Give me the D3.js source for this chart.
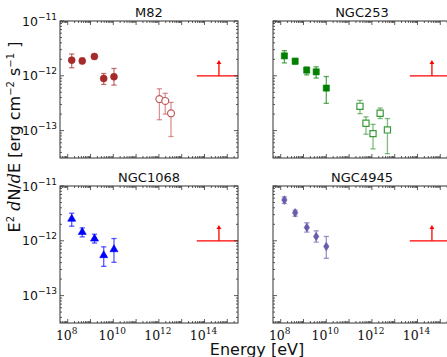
<!DOCTYPE html>
<html><head><meta charset="utf-8">
<script src="https://cdn.jsdelivr.net/npm/d3@7"></script>
<style>body{margin:0;background:#fff}svg{display:block}</style>
</head><body>
<svg id="c" width="447" height="357"></svg>
<script>
// ---- data ----
const panelNames = ["M82", "NGC253", "NGC1068", "NGC4945"];
const xTickLabels = ["8", "10", "12", "14"];
const yTickLabels = ["−11", "−12", "−13"];

const m82E  = [1.5e8, 4.35e8, 1.48e9, 3.8e9, 1.07e10];
const m82F  = [1.93e-12, 1.87e-12, 2.25e-12, 8.9e-13, 9.6e-13];
const m82Lo = [1.4e-12, 1.67e-12, 2.04e-12, 6.95e-13, 6.76e-13];
const m82Hi = [2.5e-12, 2.1e-12, 2.44e-12, 1.1e-12, 1.36e-12];
const m82vE  = [1.05e12, 1.9e12, 3.4e12];
const m82vF  = [3.77e-13, 3.47e-13, 2.07e-13];
const m82vLo = [1.58e-13, 2.0e-13, 7.8e-14];
const m82vHi = [5.8e-13, 4.8e-13, 3.27e-13];

const n253E  = [1.45e8, 4.3e8, 1.38e9, 3.6e9, 1.0e10];
const n253F  = [2.31e-12, 1.85e-12, 1.27e-12, 1.18e-12, 5.97e-13];
const n253Lo = [1.72e-12, 1.63e-12, 1.04e-12, 9.1e-13, 3.14e-13];
const n253Hi = [2.88e-12, 2.07e-12, 1.44e-12, 1.46e-12, 9.7e-13];
const n253hE  = [3.0e11, 5.5e11, 1.12e12, 2.3e12, 4.8e12];
const n253hF  = [2.77e-13, 1.36e-13, 8.8e-14, 2.07e-13, 1.03e-13];
const n253hLo = [2.04e-13, 8.6e-14, 4.64e-14, 1.66e-13, 3.8e-14];
const n253hHi = [3.56e-13, 1.78e-13, 1.3e-13, 2.58e-13, 1.66e-13];

const n1068E  = [1.5e8, 4.35e8, 1.5e9, 3.8e9, 1.07e10];
const n1068F  = [2.51e-12, 1.44e-12, 1.09e-12, 5.43e-13, 6.97e-13];
const n1068Lo = [1.85e-12, 1.18e-12, 9.1e-13, 3.42e-13, 4.05e-13];
const n1068Hi = [3.19e-12, 1.72e-12, 1.32e-12, 7.76e-13, 1.1e-12];

const n4945E  = [1.45e8, 4.3e8, 1.4e9, 3.6e9, 1.0e10];
const n4945F  = [5.56e-12, 3.24e-12, 1.75e-12, 1.2e-12, 7.88e-13];
const n4945Lo = [4.79e-12, 2.81e-12, 1.44e-12, 9.46e-13, 4.79e-13];
const n4945Hi = [6.3e-12, 3.61e-12, 2.13e-12, 1.52e-12, 1.2e-12];

const limitE = [4.6e13, 1e16];
const limitF = 1e-12;
const arrowE = 4.3e14;
const arrowTipF = 1.95e-12;

// ---- layout ----
const svg = d3.select("#c");
const W = 178, H = 137;
const panels = [
  {name: panelNames[0], x: 60, y: 21, ylab: true, xlab: false,
   sets: [
     {E: m82E, F: m82F, lo: m82Lo, hi: m82Hi, sym: "circle", color: "#a52a2a", open: false},
     {E: m82vE, F: m82vF, lo: m82vLo, hi: m82vHi, sym: "circle", color: "#c45a5a", open: true}]},
  {name: panelNames[1], x: 273, y: 21, ylab: false, xlab: false,
   sets: [
     {E: n253E, F: n253F, lo: n253Lo, hi: n253Hi, sym: "square", color: "#008000", open: false},
     {E: n253hE, F: n253hF, lo: n253hLo, hi: n253hHi, sym: "square", color: "#3a9a3a", open: true}]},
  {name: panelNames[2], x: 60, y: 186, ylab: true, xlab: true,
   sets: [
     {E: n1068E, F: n1068F, lo: n1068Lo, hi: n1068Hi, sym: "triangle", color: "#0000ff", open: false}]},
  {name: panelNames[3], x: 273, y: 186, ylab: false, xlab: true,
   sets: [
     {E: n4945E, F: n4945F, lo: n4945Lo, hi: n4945Hi, sym: "diamond", color: "#6a5aaa", open: false}]}
];

const x = d3.scaleLog().domain([Math.pow(10, 7.662), Math.pow(10, 15.47)]).range([0, W]);
const y = d3.scaleLog().domain([Math.pow(10, -13.5), 1e-11]).range([H, 0]);

const thinDiamond = {
  draw(ctx, size) { const w = 2.7, h = 4.3; ctx.moveTo(0, -h); ctx.lineTo(w, 0); ctx.lineTo(0, h); ctx.lineTo(-w, 0); ctx.closePath(); }
};
function symPath(s) {
  if (s === "circle") return d3.symbol(d3.symbolCircle, 38)();
  if (s === "square") return d3.symbol(d3.symbolSquare, 38)();
  if (s === "triangle") return d3.symbol(d3.symbolTriangle, 28)();
  return d3.symbol(thinDiamond, 1)();
}

panels.forEach((p, i) => {
  const g = svg.append("g").attr("transform", `translate(${p.x},${p.y})`);
  const cid = "clip" + i;
  g.append("clipPath").attr("id", cid).append("rect").attr("width", W).attr("height", H);
  const inner = g.append("g").attr("clip-path", `url(#${cid})`);

  // ticks (inside, all four sides)
  const tg = g.append("g").attr("stroke", "#333").attr("stroke-width", 0.8);
  for (let d = 7; d <= 15; d++) {
    for (let k = 1; k <= 9; k++) {
      const v = k * Math.pow(10, d);
      const px = x(v);
      if (px < 0.5 || px > W - 0.5) continue;
      const L = k === 1 ? 4 : 2;
      tg.append("line").attr("x1", px).attr("x2", px).attr("y1", H).attr("y2", H - L);
      tg.append("line").attr("x1", px).attr("x2", px).attr("y1", 0).attr("y2", L);
    }
  }
  for (let d = -14; d <= -11; d++) {
    for (let k = 1; k <= 9; k++) {
      const v = k * Math.pow(10, d);
      const py = y(v);
      if (py < -0.1 || py > H - 0.5) continue;
      const L = k === 1 ? 4 : 2;
      tg.append("line").attr("y1", py).attr("y2", py).attr("x1", 0).attr("x2", L);
      tg.append("line").attr("y1", py).attr("y2", py).attr("x1", W).attr("x2", W - L);
    }
  }

  // limit line + arrow
  inner.append("line").attr("x1", x(limitE[0])).attr("x2", x(limitE[1]))
    .attr("y1", y(limitF)).attr("y2", y(limitF)).attr("stroke", "#ff0000").attr("stroke-width", 1.3);
  const ax = x(arrowE), at = y(arrowTipF);
  inner.append("line").attr("x1", ax).attr("x2", ax).attr("y1", y(limitF)).attr("y2", at + 3)
    .attr("stroke", "#ff0000").attr("stroke-width", 1.3);
  inner.append("path").attr("d", `M${ax},${at} L${ax + 2.4},${at + 4.2} L${ax - 2.4},${at + 4.2} Z`).attr("fill", "#ff0000");

  // data
  p.sets.forEach(s => {
    const pts = s.E.map((e, j) => ({e, f: s.F[j], lo: s.lo[j], hi: s.hi[j]}));
    const eg = inner.append("g").attr("stroke", s.color).attr("stroke-opacity", 0.65).attr("stroke-width", 1.3);
    pts.forEach(d => {
      const px = x(d.e);
      eg.append("line").attr("x1", px).attr("x2", px).attr("y1", y(d.lo)).attr("y2", y(d.hi));
      eg.append("line").attr("x1", px - 2.6).attr("x2", px + 2.6).attr("y1", y(d.lo)).attr("y2", y(d.lo));
      eg.append("line").attr("x1", px - 2.6).attr("x2", px + 2.6).attr("y1", y(d.hi)).attr("y2", y(d.hi));
    });
    inner.append("g").selectAll("path").data(pts).join("path")
      .attr("d", symPath(s.sym))
      .attr("transform", d => `translate(${x(d.e)},${y(d.f)})`)
      .attr("fill", s.open ? "#fff" : s.color)
      .attr("stroke", s.color)
      .attr("stroke-width", s.open ? 1.2 : 0.6);
  });

  // frame
  g.append("rect").attr("width", W).attr("height", H).attr("fill", "none").attr("stroke", "#333").attr("stroke-width", 1);

  // title
  g.append("text").attr("x", W / 2).attr("y", -4).attr("text-anchor", "middle")
    .attr("font-family", "DejaVu Sans").attr("font-size", 13).attr("fill", "#111").text(p.name);

  // y tick labels
  if (p.ylab) {
    [1e-11, 1e-12, 1e-13].forEach((v, j) => {
      const t = g.append("text").attr("x", -3).attr("y", y(v) + 4.5).attr("text-anchor", "end")
        .attr("font-family", "DejaVu Sans").attr("font-size", 12.5).attr("fill", "#111");
      t.append("tspan").text("10");
      t.append("tspan").attr("dy", -6).attr("font-size", 9).text(yTickLabels[j]);
    });
  }
  // x tick labels
  if (p.xlab) {
    [1e8, 1e10, 1e12, 1e14].forEach((v, j) => {
      const t = g.append("text").attr("x", x(v) - 1).attr("y", H + 17).attr("text-anchor", "middle")
        .attr("font-family", "DejaVu Serif").attr("font-size", 12.5).attr("fill", "#111");
      t.append("tspan").text("10");
      t.append("tspan").attr("dy", -6).attr("font-size", 9).text(xTickLabels[j]);
    });
  }
});

// axis labels
const yl = svg.append("text").attr("transform", "translate(20,137) rotate(-90)")
  .attr("text-anchor", "middle").attr("font-family", "DejaVu Sans").attr("font-size", 16).attr("fill", "#111");
yl.append("tspan").text("E");
yl.append("tspan").attr("dy", -6).attr("font-size", 10).text("2");
yl.append("tspan").attr("dy", 6).text(" ");
yl.append("tspan").attr("font-family", "DejaVu Serif").attr("font-style", "italic").text("d");
yl.append("tspan").text("N/");
yl.append("tspan").attr("font-family", "DejaVu Serif").attr("font-style", "italic").text("d");
yl.append("tspan").text("E [erg cm");
yl.append("tspan").attr("dy", -6).attr("font-size", 10).text("−2");
yl.append("tspan").attr("dy", 6).text(" s");
yl.append("tspan").attr("dy", -6).attr("font-size", 10).text("−1");
yl.append("tspan").attr("dy", 6).text(" ]");

svg.append("text").attr("x", 257).attr("y", 355).attr("text-anchor", "middle")
  .attr("font-family", "DejaVu Sans").attr("font-size", 16).attr("fill", "#111").text("Energy [eV]");
</script>
</body></html>
